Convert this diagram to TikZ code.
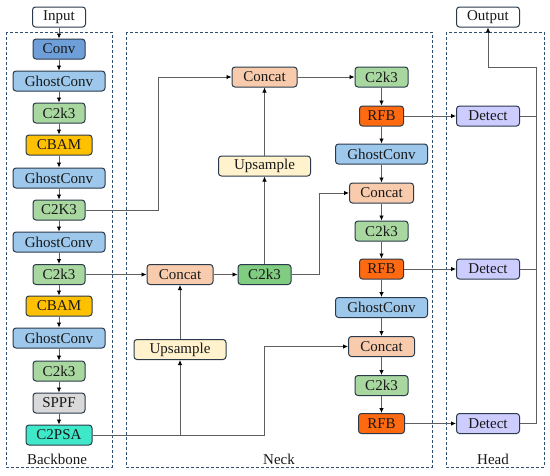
\documentclass[tikz,border=0pt]{standalone}
\usepackage{fontspec}
\setmainfont{Liberation Serif}
\usetikzlibrary{arrows.meta}
\definecolor{bord}{HTML}{2A3A4A}
\definecolor{grpc}{HTML}{2F5070}
\definecolor{linec}{HTML}{5F5F5F}
\definecolor{convc}{HTML}{6F9FD8}
\definecolor{ghostc}{HTML}{9DC8EC}
\definecolor{c2kc}{HTML}{A8D8A0}
\definecolor{c2kmid}{HTML}{80CC80}
\definecolor{cbamc}{HTML}{FFC000}
\definecolor{sppfc}{HTML}{D9D9D9}
\definecolor{psac}{HTML}{3EE8C8}
\definecolor{catc}{HTML}{F8CBAD}
\definecolor{upc}{HTML}{FFF2CC}
\definecolor{rfbc}{HTML}{FF6A10}
\definecolor{detc}{HTML}{CCCCFF}
\begin{document}
\begin{tikzpicture}[x=1pt,y=-1pt,
  blk/.style={draw=bord,line width=1pt,rounded corners=3pt,minimum height=20pt,inner sep=0pt,
    font=\fontsize{15}{16}\selectfont,text=black!90},
  grp/.style={draw=grpc,line width=1pt,dash pattern=on 3pt off 2pt},
  lbl/.style={font=\fontsize{15}{16}\selectfont,inner sep=0pt,text=black!90},
  arr/.style={draw=linec,line width=0.8pt,-{Latex[black,length=5pt,width=4.5pt]}},
  ln/.style={draw=linec,line width=0.8pt}]
\useasboundingbox (0,0) rectangle (550,475);
% groups
\draw[grp] (6,32) rectangle (112,467);
\draw[grp] (126,32) rectangle (432,467);
\draw[grp] (446,32) rectangle (544,467);
\node[lbl] (lb) at (57,459) {Backbone};
\node[lbl] (ln) at (279,459) {Neck};
\node[lbl] (lh) at (493,459) {Head};
% backbone
\node[blk,fill=white,minimum width=53pt] (in) at (59,17) {Input};
\node[blk,fill=convc,minimum width=52pt] (conv) at (59,49) {Conv};
\node[blk,fill=ghostc,minimum width=92pt] (g1) at (59,81) {GhostConv};
\node[blk,fill=c2kc,minimum width=52pt] (c1) at (59,113) {C2k3};
\node[blk,fill=cbamc,minimum width=66pt] (cb1) at (59,145) {CBAM};
\node[blk,fill=ghostc,minimum width=92pt] (g2) at (59,178) {GhostConv};
\node[blk,fill=c2kc,minimum width=52pt] (c2) at (59,210) {C2K3};
\node[blk,fill=ghostc,minimum width=92pt] (g3) at (59,242) {GhostConv};
\node[blk,fill=c2kc,minimum width=52pt] (c3) at (59,274.5) {C2k3};
\node[blk,fill=cbamc,minimum width=66pt] (cb2) at (59,306) {CBAM};
\node[blk,fill=ghostc,minimum width=92pt] (g4) at (59,338) {GhostConv};
\node[blk,fill=c2kc,minimum width=52pt] (c4) at (59,371) {C2k3};
\node[blk,fill=sppfc,minimum width=52pt] (sppf) at (59,403) {SPPF};
\node[blk,fill=psac,minimum width=66pt] (psa) at (59,435) {C2PSA};
% neck
\node[blk,fill=catc,minimum width=65pt] (cat1) at (264.5,77) {Concat};
\node[blk,fill=upc,minimum width=92pt] (up1) at (264.5,166) {Upsample};
\node[blk,fill=catc,minimum width=66pt] (cat2) at (180,274.5) {Concat};
\node[blk,fill=c2kmid,minimum width=53pt] (cm) at (264.5,274.5) {C2k3};
\node[blk,fill=upc,minimum width=92pt] (up2) at (180,349.5) {Upsample};
\node[blk,fill=c2kc,minimum width=53pt] (rc1) at (381.5,77) {C2k3};
\node[blk,fill=rfbc,minimum width=44pt] (rfb1) at (381.5,116) {RFB};
\node[blk,fill=ghostc,minimum width=92pt] (rg1) at (381.5,154) {GhostConv};
\node[blk,fill=catc,minimum width=64pt] (rcat1) at (381.5,193) {Concat};
\node[blk,fill=c2kc,minimum width=53pt] (rc2) at (381.5,231) {C2k3};
\node[blk,fill=rfbc,minimum width=44pt] (rfb2) at (381.5,269) {RFB};
\node[blk,fill=ghostc,minimum width=92pt] (rg2) at (381.5,307.5) {GhostConv};
\node[blk,fill=catc,minimum width=66pt] (rcat2) at (381.5,346.5) {Concat};
\node[blk,fill=c2kc,minimum width=53pt] (rc3) at (381.5,385.5) {C2k3};
\node[blk,fill=rfbc,minimum width=46pt] (rfb3) at (381.5,423.5) {RFB};
% head
\node[blk,fill=white,minimum width=63pt] (out) at (488,17) {Output};
\node[blk,fill=detc,minimum width=63pt] (d1) at (488,116) {Detect};
\node[blk,fill=detc,minimum width=63pt] (d2) at (488,269) {Detect};
\node[blk,fill=detc,minimum width=63pt] (d3) at (488,423.5) {Detect};
% bend coordinates
\coordinate (b1) at (158,0);
\coordinate (b2) at (319,0);
\coordinate (b3) at (264.5,0);
\coordinate (b4) at (536,67);
% backbone chain
\foreach \a/\b in {in/conv,conv/g1,g1/c1,c1/cb1,cb1/g2,g2/c2,c2/g3,g3/c3,c3/cb2,cb2/g4,g4/c4,c4/sppf,sppf/psa}
  \draw[arr] (\a.south) -- (\b.north);
% right chain
\foreach \a/\b in {rc1/rfb1,rfb1/rg1,rg1/rcat1,rcat1/rc2,rc2/rfb2,rfb2/rg2,rg2/rcat2,rcat2/rc3,rc3/rfb3}
  \draw[arr] (\a.south) -- (\b.north);
% neck connections
\draw[arr] (c2.east) -- (c2.east -| b1) |- (cat1.west);
\draw[arr] (c3.east) -- (cat2.west);
\draw[arr] (cat2.east) -- (cm.west);
\draw[arr] (cm.north) -- (up1.south);
\draw[arr] (up1.north) -- (cat1.south);
\draw[arr] (cm.east) -- (cm.east -| b2) |- (rcat1.west);
\draw[arr] (cat1.east) -- (rc1.west);
\draw[arr] (psa.east) -- (psa.east -| b3) |- (rcat2.west);
\draw[arr] (psa.east -| up2.south) -- (up2.south);
\draw[arr] (up2.north) -- (cat2.south);
% head connections
\draw[arr] (rfb1.east) -- (d1.west);
\draw[arr] (rfb2.east) -- (d2.west);
\draw[arr] (rfb3.east) -- (d3.west);
\draw[ln] (d1.east) -- (d1.east -| b4);
\draw[ln] (d2.east) -- (d2.east -| b4);
\draw[arr] (d3.east) -- (d3.east -| b4) -- (b4) -| (out.south);
\end{tikzpicture}
\end{document}
